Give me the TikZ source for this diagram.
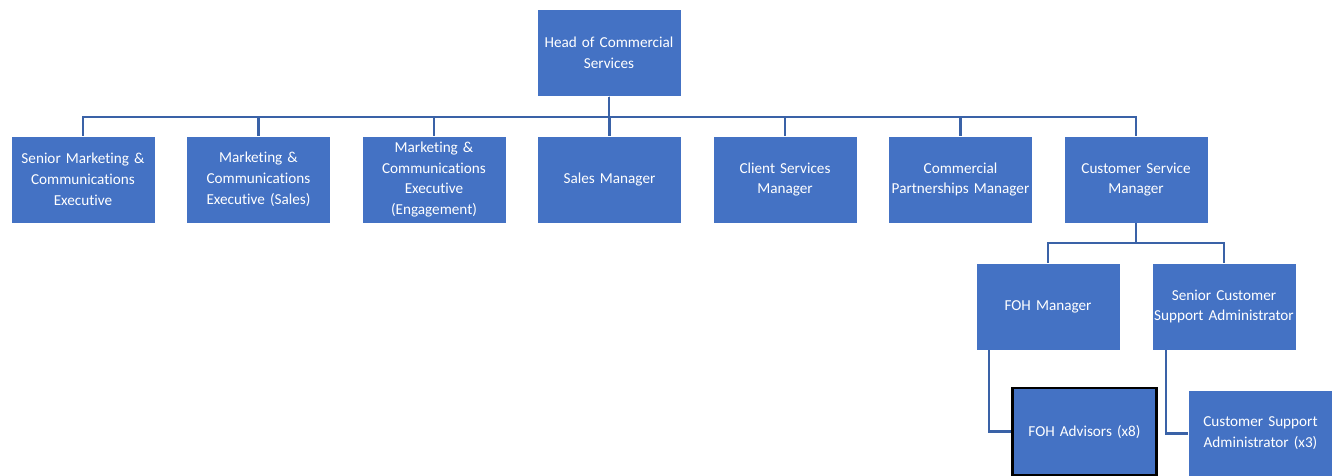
\documentclass[tikz,border=0pt]{standalone}
\usepackage{fontspec}
\setmainfont{Carlito}[Ligatures=NoCommon]
\usepackage{xcolor}
\usepackage{tikz}
\definecolor{boxblue}{HTML}{4472C4}
\definecolor{linkblue}{HTML}{3A62A7}
\hyphenpenalty=10000

\begin{document}
\begin{tikzpicture}[x=1pt, y=1pt]
        \useasboundingbox (0,0) rectangle (1337,-475);
        \clip (0,0) rectangle (1337,-475);
        \fill[white] (0,0) rectangle (1337,-475);

        {\tikzstyle{every node}=[rectangle, fill=boxblue, draw=white, line width=0.4pt,
            text=white, minimum width=144pt, minimum height=87pt, inner sep=0pt,
            text width=144pt, align=center, font=\fontsize{15.2}{20.8}\selectfont]
          \node (head) at (609, -53) {Head of Commercial\\Services};

          \foreach \i/\t in {0/{Senior Marketing \&\\Communications\\Executive},
                             1/{Marketing \&\\Communications\\Executive (Sales)},
                             2/{Marketing \&\\Communications\\Executive\\(Engagement)},
                             3/{Sales Manager},
                             4/{Client Services\\Manager},
                             5/{Commercial\\Partnerships Manager},
                             6/{Customer Service\\Manager}}
          {
            \node (r\i) at (83+\i*175.5, -179.5) {\t};
          }

          \node (foh) at (1048, -306.5) {FOH Manager};
          \node (senior) at (1224, -306.5) {Senior Customer\\Support Administrator};
          \node (csa) at (1260.5, -433.5) {Customer Support\\Administrator (x3)};
          \node[draw=black, line width=2.5pt] (advisors) at (1084.5, -431.5) {FOH Advisors (x8)};
        }

        \foreach \i in {0, ..., 6}
        {
          \draw [linkblue, line width=2.3pt] (head.south) -- ++(0,-20) -| (r\i.north);
        }

        \draw [linkblue, line width=2.3pt]
          (r6.south) -- ++(0,-20) -| (foh.north)
          (r6.south) -- ++(0,-20) -| (senior.north)
          ([xshift=13pt]foh.south west) |- (advisors.west)
          ([xshift=14pt]senior.south west) |- (csa.west);
      \end{tikzpicture}
\end{document}
